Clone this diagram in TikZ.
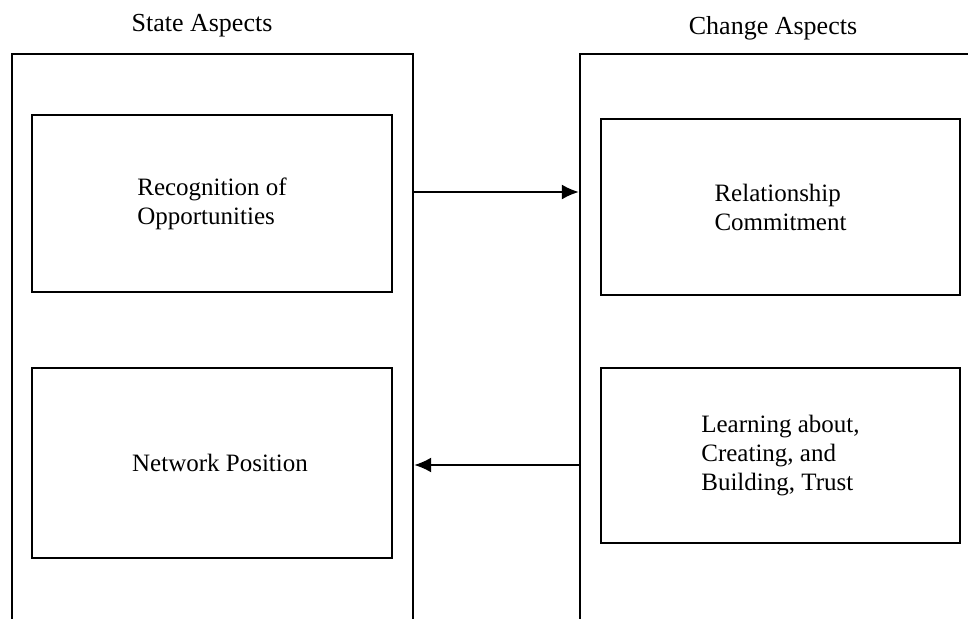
\documentclass[tikz,border=0pt]{standalone}
\usepackage{fontspec}
\setmainfont{Liberation Serif}
\usetikzlibrary{arrows.meta}
\begin{document}
\begin{tikzpicture}[x=1pt, y=-1pt, outerStyle/.style={rectangle, draw, line width=2.3pt, minimum height=646pt}, boxStyle/.style={rectangle, draw, line width=2.5pt, align=left, font=\fontsize{25}{29}\selectfont}, headStyle/.style={font=\fontsize{26}{30}\selectfont}, flowStyle/.style={line width=2pt, -{Latex[length=17pt,width=15pt]}}]
                    \path[use as bounding box, clip] (0,0) rectangle (968,618);

                    \node[headStyle] (state_h)  at (202, 26) {State Aspects};
                    \node[headStyle] (change_h) at (773, 28) {Change Aspects};

                    \node[outerStyle, minimum width=401pt] (state)  at (212.5, 377) {};
                    \node[outerStyle, minimum width=420pt] (change) at (790,   377) {};

                    \node[boxStyle, minimum width=360pt, minimum height=177pt] (state_0)  at (212,   203.5) {Recognition of\\Opportunities};
                    \node[boxStyle, minimum width=360pt, minimum height=190pt] (state_1)  at (212,   463)   {\hspace*{16pt}Network Position};
                    \node[boxStyle, minimum width=359pt, minimum height=176pt] (change_0) at (780.5, 207)   {Relationship\\Commitment};
                    \node[boxStyle, minimum width=359pt, minimum height=175pt] (change_1) at (780.5, 455.5) {Learning about,\\Creating, and\\Building, Trust};

                    \draw[flowStyle] (state.east |- 0, 192) -- (change.west |- 0, 192);
                    \draw[flowStyle] (change.west |- 0, 465) -- (state.east |- 0, 465);
                \end{tikzpicture}
\end{document}
